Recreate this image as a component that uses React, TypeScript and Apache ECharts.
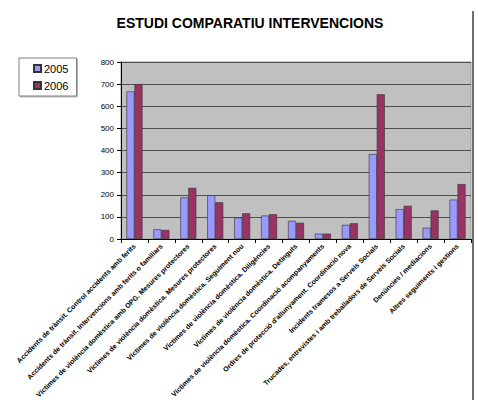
import React, { useEffect, useRef } from "react";
import * as echarts from "echarts";

const categories = [
  "Accidents de trànsit. Control accidents amb ferits",
  "Accidents de trànsit. Intervencions amb ferits o familiars",
  "Víctimes de violència domèstica amb OPG. Mesures protectores",
  "Víctimes de violència domèstica. Mesures protectores",
  "Víctimes de violència domèstica. Seguiment nou",
  "Víctimes de violència domèstica. Diligències",
  "Víctimes de violència domèstica. Detinguts",
  "Víctimes de violència domèstica. Coordinació acompanyaments",
  "Ordres de protecció d'allunyament. Coordinació nova",
  "Incidents tramesos a Serveis Socials",
  "Trucades, entrevistes i amb treballadors de Serveis Socials",
  "Denúncies / mediacions",
  "Altres seguiments i gestions",
];
const values2005 = [667, 44, 188, 198, 97, 106, 82, 24, 64, 384, 135, 51, 178];
const values2006 = [700, 41, 231, 166, 116, 112, 73, 24, 71, 654, 150, 129, 248];
const yTicks = [0, 100, 200, 300, 400, 500, 600, 700, 800];

export default function App() {
  const ref = useRef<HTMLDivElement>(null);
  useEffect(() => {
    if (!ref.current) return;
    const chart = echarts.init(ref.current, undefined, { renderer: "svg" });
    chart.setOption({
      animation: false,
      backgroundColor: "#ffffff",
      textStyle: { fontFamily: "Liberation Sans, Arial, sans-serif" },
      title: {
        text: "ESTUDI COMPARATIU INTERVENCIONS",
        left: 245,
        top: 11,
        textAlign: "center",
        textStyle: { fontSize: 14, fontWeight: "bold", color: "#000", fontFamily: "Liberation Sans, Arial, sans-serif" },
      },
      legend: {
        orient: "vertical",
        left: 19,
        top: 58,
        itemWidth: 7,
        itemHeight: 7,
        itemGap: 6,
        padding: [5, 8, 5, 14],
        borderColor: "#808080",
        borderWidth: 1,
        shadowColor: "rgba(0,0,0,0.3)",
        shadowOffsetX: 1,
        shadowOffsetY: 1,
        backgroundColor: "#fff",
        icon: "rect",
        textStyle: { fontSize: 11, color: "#000", padding: [0, 0, 0, -2] },
        data: ["2005", "2006"],
      },
      grid: {
        left: 121,
        right: 7,
        top: 62,
        bottom: 164,
        show: true,
        backgroundColor: "#c0c0c0",
        borderColor: "#9a9a9a",
        borderWidth: 1,
      },
      xAxis: {
        type: "category",
        data: categories,
        axisLine: { lineStyle: { color: "#000", width: 1 } },
        axisTick: { show: true, interval: 0, length: 4, lineStyle: { color: "#000" } },
        axisLabel: { interval: 0, rotate: 45, fontSize: 7, color: "#000", margin: 6, fontWeight: "bold" },
      },
      yAxis: {
        type: "value",
        min: 0,
        max: 800,
        interval: 100,
        axisLine: { show: true, lineStyle: { color: "#000", width: 1 } },
        axisTick: { show: true, length: 4, lineStyle: { color: "#000" } },
        axisLabel: { fontSize: 8, color: "#000", margin: 7, formatter: (v: number) => (yTicks.includes(v) ? String(v) : "") },
        splitLine: { show: true, lineStyle: { color: "#505050", width: 1 } },
      },
      series: [
        {
          name: "2005",
          type: "bar",
          data: values2005,
          barWidth: 8,
          barGap: "0%",
          itemStyle: { color: "#9999ff", borderColor: "#333", borderWidth: 0.6 },
        },
        {
          name: "2006",
          type: "bar",
          data: values2006,
          barWidth: 8,
          itemStyle: { color: "#993366", borderColor: "#333", borderWidth: 0.6 },
        },
      ],
      graphic: [
        { type: "rect", shape: { x: 472, y: 11, width: 2, height: 389 }, style: { fill: "#6e6e6e" } },
      ],
    });
    return () => chart.dispose();
  }, []);
  return <div ref={ref} style={{ position: "fixed", left: 0, top: 0, width: 478, height: 403 }} />;
}
